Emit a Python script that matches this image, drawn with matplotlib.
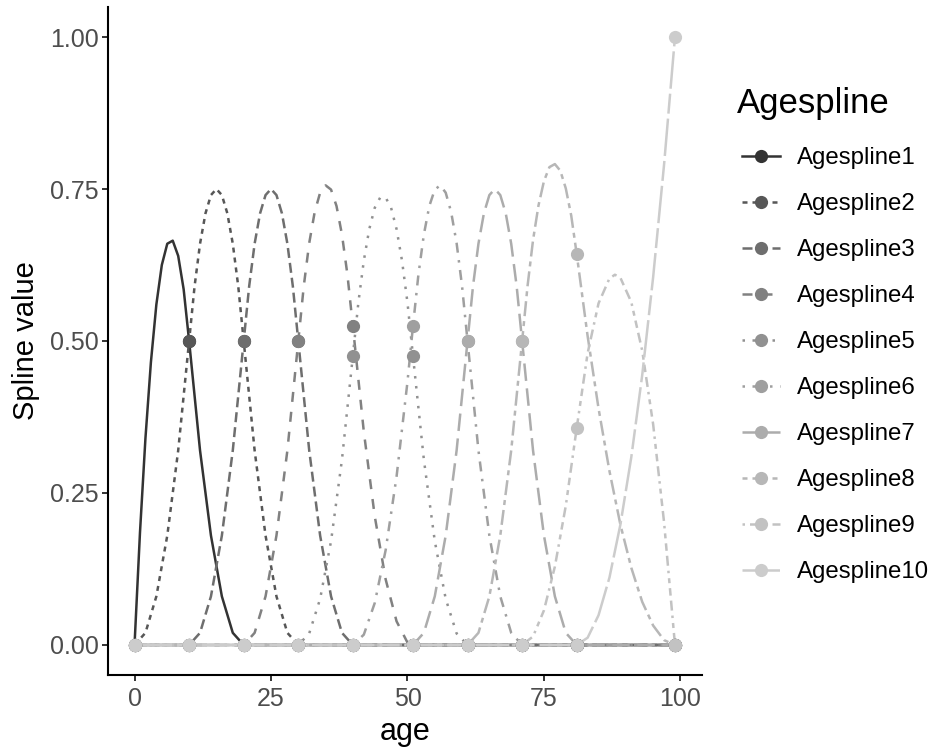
# Age spline basis functions, each drawn as a line with points at the knot ages
import matplotlib
matplotlib.use('Agg')
import matplotlib.pyplot as plt
from matplotlib.lines import Line2D

plt.rcParams['font.family'] = ['Liberation Sans', 'DejaVu Sans']

# Series names
names = ['Agespline1', 'Agespline2', 'Agespline3', 'Agespline4', 'Agespline5',
         'Agespline6', 'Agespline7', 'Agespline8', 'Agespline9', 'Agespline10']

# Curve values (age, spline value) for each spline
age1 = [0, 1, 2, 3, 4, 5, 6, 7, 8, 9, 10, 12, 14, 16, 18, 20, 99]
spl1 = [0, 0.185, 0.34, 0.465, 0.56, 0.625, 0.66, 0.665, 0.64, 0.585, 0.5,
        0.32, 0.18, 0.08, 0.02, 0, 0]

age2 = [0, 2, 4, 6, 8, 10, 11, 12, 13, 14, 15, 16, 17, 18, 19, 20,
        22, 24, 26, 28, 30, 99]
spl2 = [0, 0.02, 0.08, 0.18, 0.32, 0.5, 0.59, 0.66, 0.71, 0.74, 0.75, 0.74, 0.71,
        0.66, 0.59, 0.5, 0.32, 0.18, 0.08, 0.02, 0, 0]

age3 = [0, 10, 12, 14, 16, 18, 20, 21, 22, 23, 24, 25, 26, 27, 28, 29, 30,
        32, 34, 36, 38, 40, 99]
spl3 = [0, 0, 0.02, 0.08, 0.18, 0.32, 0.5, 0.59, 0.66, 0.71, 0.74, 0.75, 0.74,
        0.71, 0.66, 0.59, 0.5, 0.32, 0.18, 0.08, 0.02, 0, 0]

age4 = [0, 20, 22, 24, 26, 28, 30, 31, 32, 33, 34, 35, 36, 37, 38, 39, 40,
        42, 44, 46, 48, 50, 51, 99]
spl4 = [0, 0, 0.02, 0.08, 0.18, 0.32, 0.5, 0.59, 0.661, 0.712, 0.744, 0.756,
        0.749, 0.722, 0.675, 0.609, 0.524, 0.351, 0.212, 0.108, 0.039, 0.004, 0, 0]

age5 = [0, 30, 32, 34, 36, 38, 40, 41, 42, 43, 44, 45, 46, 47, 48, 49, 50, 51,
        53, 55, 57, 59, 61, 99]
spl5 = [0, 0, 0.019, 0.076, 0.171, 0.305, 0.476, 0.563, 0.632, 0.684, 0.719,
        0.736, 0.736, 0.719, 0.684, 0.632, 0.563, 0.476, 0.305, 0.171, 0.076,
        0.019, 0, 0]

age6 = [0, 40, 42, 44, 46, 48, 50, 51, 52, 53, 54, 55, 56, 57, 58, 59, 60, 61,
        63, 65, 67, 69, 71, 99]
spl6 = [0, 0, 0.017, 0.069, 0.156, 0.277, 0.433, 0.524, 0.609, 0.675, 0.722,
        0.749, 0.756, 0.744, 0.712, 0.661, 0.59, 0.5, 0.32, 0.18, 0.08, 0.02, 0, 0]

age7 = [0, 51, 53, 55, 57, 59, 61, 62, 63, 64, 65, 66, 67, 68, 69, 70, 71,
        73, 75, 77, 79, 81, 99]
spl7 = [0, 0, 0.02, 0.08, 0.18, 0.32, 0.5, 0.59, 0.66, 0.71, 0.74, 0.75, 0.74,
        0.71, 0.66, 0.59, 0.5, 0.32, 0.18, 0.08, 0.02, 0, 0]

age8 = [0, 61, 63, 65, 67, 69, 71, 72, 73, 74, 75, 76, 77, 78, 79, 80, 81,
        83, 85, 87, 89, 91, 93, 95, 97, 99]
spl8 = [0, 0, 0.02, 0.08, 0.18, 0.32, 0.5, 0.591, 0.666, 0.723, 0.763, 0.786,
        0.791, 0.78, 0.751, 0.706, 0.643, 0.508, 0.389, 0.286, 0.198, 0.127,
        0.071, 0.032, 0.008, 0]

age9 = [0, 71, 73, 75, 77, 79, 81, 83, 85, 87, 88, 89, 91, 93, 95, 97, 99]
spl9 = [0, 0, 0.014, 0.057, 0.129, 0.229, 0.357, 0.48, 0.562, 0.603, 0.609,
        0.604, 0.564, 0.484, 0.363, 0.202, 0]

age10 = [0, 81, 83, 85, 87, 89, 91, 93, 95, 97, 99]
spl10 = [0, 0, 0.012, 0.049, 0.111, 0.198, 0.309, 0.444, 0.605, 0.79, 1.0]

# Points at the knot ages
point_ages = [0, 10, 20, 30, 40, 51, 61, 71, 81, 99]
pts1 = [0, 0.5, 0, 0, 0, 0, 0, 0, 0, 0]
pts2 = [0, 0.5, 0.5, 0, 0, 0, 0, 0, 0, 0]
pts3 = [0, 0, 0.5, 0.5, 0, 0, 0, 0, 0, 0]
pts4 = [0, 0, 0, 0.5, 0.524, 0, 0, 0, 0, 0]
pts5 = [0, 0, 0, 0, 0.476, 0.476, 0, 0, 0, 0]
pts6 = [0, 0, 0, 0, 0, 0.524, 0.5, 0, 0, 0]
pts7 = [0, 0, 0, 0, 0, 0, 0.5, 0.5, 0, 0]
pts8 = [0, 0, 0, 0, 0, 0, 0, 0.5, 0.643, 0]
pts9 = [0, 0, 0, 0, 0, 0, 0, 0, 0.357, 0]
pts10 = [0, 0, 0, 0, 0, 0, 0, 0, 0, 1.0]

ages = [age1, age2, age3, age4, age5, age6, age7, age8, age9, age10]
splines = [spl1, spl2, spl3, spl4, spl5, spl6, spl7, spl8, spl9, spl10]
points = [pts1, pts2, pts3, pts4, pts5, pts6, pts7, pts8, pts9, pts10]

# Grey shades from dark to light, and the ggplot line types
colours = ['#333333', '#575757', '#6e6e6e', '#818181', '#919191',
           '#9f9f9f', '#acacac', '#b7b7b7', '#c2c2c2', '#cccccc']
linestyles = ['-', (0, (2, 2)), (0, (4, 2)), (0, (4, 4)), (0, (1, 3)),
              (0, (1, 3, 4, 3)), (0, (7, 3)), (0, (2, 2, 6, 2)),
              (0, (1, 2, 2, 2, 3, 2, 4, 2)), (0, (15, 2, 8, 2))]

lw = 1.8
ms = 9.5

fig = plt.figure(figsize=(9.35, 7.51), dpi=100)
ax = fig.add_axes([107.5 / 935, 1 - 675.4 / 751, (702 - 107.5) / 935, (675.4 - 6.6) / 751])

# Lines first, then all the points on top
for i in range(len(names)):
    ax.plot(ages[i], splines[i], color=colours[i], linestyle=linestyles[i],
            linewidth=lw, zorder=2 + i * 0.01)
for i in range(len(names)):
    ax.plot(point_ages, points[i], linestyle='none', marker='o', markersize=ms,
            markeredgewidth=0, color=colours[i], zorder=3 + i * 0.01)

ax.set_xlim(-4.95, 103.95)
ax.set_ylim(-0.05, 1.05)
ax.set_xticks([0, 25, 50, 75, 100])
ax.set_yticks([0, 0.25, 0.5, 0.75, 1.0])
ax.set_yticklabels(['0.00', '0.25', '0.50', '0.75', '1.00'])

# Classic theme: only the left and bottom axis lines
for side in ['top', 'right']:
    ax.spines[side].set_visible(False)
for side in ['left', 'bottom']:
    ax.spines[side].set_linewidth(1.5)
    ax.spines[side].set_color('black')
ax.tick_params(axis='both', length=4, width=1.4, color='#333333',
               labelcolor='#4d4d4d', labelsize=18, pad=2.5)
ax.tick_params(axis='x', pad=4.5)

ax.set_xlabel('age', fontsize=22, color='black', labelpad=4)
ax.set_ylabel('Spline value', fontsize=21, color='black', labelpad=7)

# Legend title as its own text, then the keys with line and point
fig.text(737 / 935, 1 - 103 / 751, 'Agespline', fontsize=25, color='black',
         ha='left', va='center')
handles = []
for i in range(len(names)):
    handles.append(Line2D([], [], color=colours[i], linestyle=linestyles[i],
                          linewidth=lw, marker='o', markersize=ms, markeredgewidth=0))
leg = fig.legend(handles, names, loc='upper left', bbox_to_anchor=(742 / 935, 1 - 147 / 751),
                 frameon=False, fontsize=17.3, handlelength=1.58, handletextpad=0.7,
                 labelspacing=1.0, borderpad=0, borderaxespad=0)

plt.savefig('out.png', dpi=100)
